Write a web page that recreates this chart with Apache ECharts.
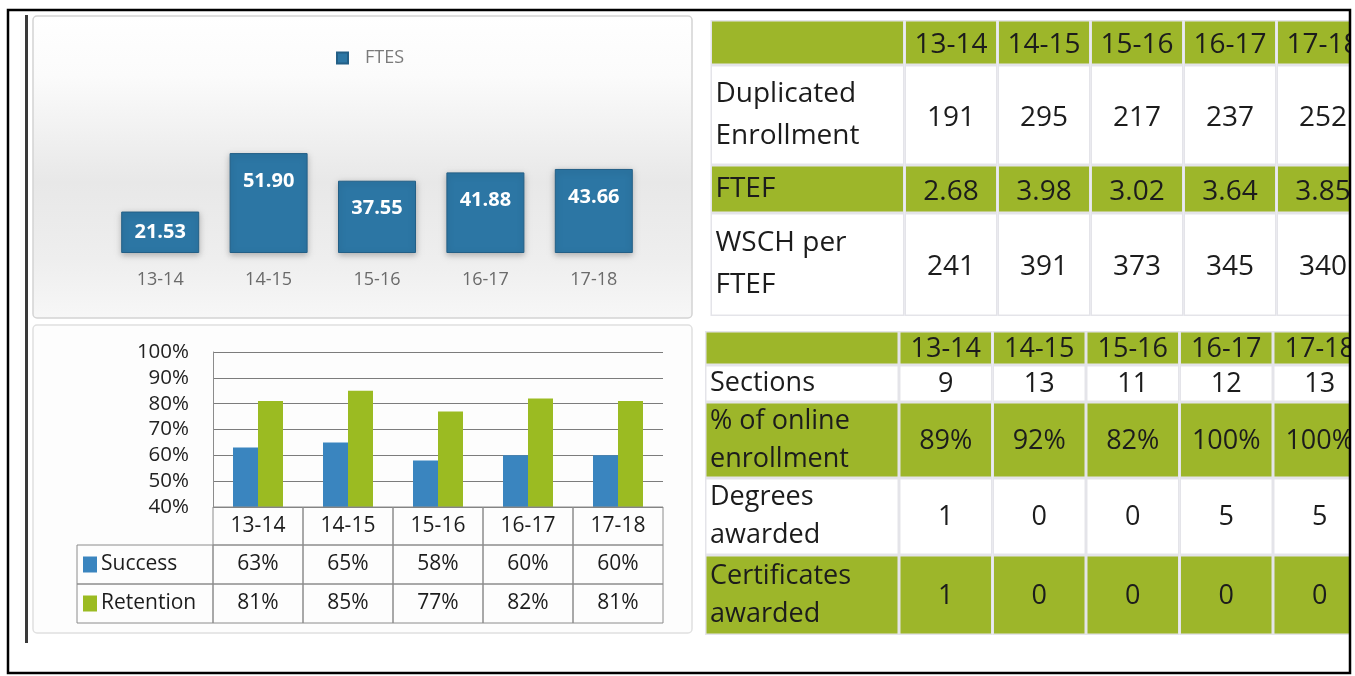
<!DOCTYPE html>
<html>
<head>
<meta charset="utf-8">
<script src="https://cdn.jsdelivr.net/npm/echarts@6/dist/echarts.min.js"></script>
<style>
	html, body { margin: 0; padding: 0; background: #fff; overflow: hidden; }
	#main { width: 1400px; height: 676px; }
</style>
</head>
<body>
<div id="main"></div>
<script>
	/*年度*/
	const years = ['13-14', '14-15', '15-16', '16-17', '17-18'];
	/*FTES*/
	const ftes = [21.53, 51.90, 37.55, 41.88, 43.66];
	/*Success / Retention (%)*/
	const success = [63, 65, 58, 60, 60];
	const retention = [81, 85, 77, 82, 81];
	const pctTicks = [40, 50, 60, 70, 80, 90, 100];
	/*右上表*/
	const dupEnrollment = [191, 295, 217, 237, 252];
	const ftef = [2.68, 3.98, 3.02, 3.64, 3.85];
	const wschPerFtef = [241, 391, 373, 345, 340];
	/*右下表*/
	const sections = [9, 13, 11, 12, 13];
	const onlinePct = [89, 92, 82, 100, 100];
	const degrees = [1, 0, 0, 5, 5];
	const certificates = [1, 0, 0, 0, 0];

	const FONT = '"Open Sans", sans-serif';
	const GREEN = '#9db62a';
	const BLUE = '#3a85bf';
	const LIME = '#9bbb22';

	/*表格行*/
	const topRows = [
		{ label: '', values: years, fill: GREEN },
		{ label: 'Duplicated\nEnrollment', values: dupEnrollment.map(String), fill: '#fff' },
		{ label: 'FTEF', values: ftef.map(v => v.toFixed(2)), fill: GREEN },
		{ label: 'WSCH per\nFTEF', values: wschPerFtef.map(String), fill: '#fff' }
	];
	const bottomRows = [
		{ label: '', values: years, fill: GREEN },
		{ label: 'Sections', values: sections.map(String), fill: '#fff' },
		{ label: '% of online\nenrollment', values: onlinePct.map(v => v + '%'), fill: GREEN },
		{ label: 'Degrees\nawarded', values: degrees.map(String), fill: '#fff' },
		{ label: 'Certificates\nawarded', values: certificates.map(String), fill: GREEN }
	];
	const topLayout = { rowH: [45, 100, 48, 103], labelW: 194, fontSize: 28, lineHeight: 42, textDy: 3 };
	const bottomLayout = { rowH: [34, 37, 76, 77, 80], labelW: 194, fontSize: 27, lineHeight: 38, textDy: 1 };

	function sum(arr) {
		return arr.reduce((a, b) => a + b, 0);
	}

	function buildCells(rows) {
		let cells = [];
		rows.forEach((r, ri) => {
			cells.push({ col: 0, row: ri, text: r.label, isLabel: true, fill: r.fill });
			r.values.forEach((v, ci) => {
				cells.push({ col: ci, row: ri, text: v, isLabel: false, fill: r.fill });
			});
		});
		return cells;
	}

	function tableRenderer(cells, layout) {
		let tops = [0];
		layout.rowH.forEach(h => tops.push(tops[tops.length - 1] + h));
		return function(params, api) {
			const c = cells[params.dataIndex];
			const band = api.size([1, 0])[0];
			let x = api.coord([c.col, 0])[0] - band / 2;
			let w = band;
			if (c.isLabel) {
				x = x - layout.labelW;
				w = layout.labelW;
			}
			const y0 = api.coord([0, tops[c.row]])[1];
			const y1 = api.coord([0, tops[c.row + 1]])[1];
			const h = y1 - y0;
			return {
				type: 'group',
				children: [{
					type: 'rect',
					shape: { x: x, y: y0, width: w, height: h },
					style: { fill: '#e4e4e9' }
				}, {
					type: 'rect',
					shape: { x: x + 1.5, y: y0 + 1.5, width: w - 3, height: h - 3 },
					style: { fill: c.fill }
				}, {
					type: 'text',
					style: {
						text: c.text,
						x: c.isLabel ? x + 5 : x + w / 2,
						y: y0 + h / 2 + (c.isLabel ? 0 : layout.textDy),
						align: c.isLabel ? 'left' : 'center',
						verticalAlign: 'middle',
						fontFamily: FONT,
						fontSize: layout.fontSize,
						lineHeight: layout.lineHeight,
						fill: '#1c1c1c'
					}
				}]
			};
		};
	}

	/*图表下方数据表*/
	const dtRowH = [38, 39, 39];
	const dtLabelW = 136;
	let dtCells = [];
	years.forEach((y, i) => {
		dtCells.push({ col: i, row: 0, text: y });
		dtCells.push({ col: i, row: 1, text: success[i] + '%' });
		dtCells.push({ col: i, row: 2, text: retention[i] + '%' });
	});
	dtCells.push({ col: 0, row: 1, text: 'Success', isLabel: true, swatch: BLUE });
	dtCells.push({ col: 0, row: 2, text: 'Retention', isLabel: true, swatch: LIME });

	function renderDataTable(params, api) {
		const c = dtCells[params.dataIndex];
		const base = api.coord([c.col, pctTicks[0]]);
		const band = api.size([1, 0])[0];
		let x = base[0] - band / 2;
		let w = band;
		if (c.isLabel) {
			x = x - dtLabelW;
			w = dtLabelW;
		}
		let y = base[1];
		for (let r = 0; r < c.row; r++) y += dtRowH[r];
		const h = dtRowH[c.row];
		let children = [{
			type: 'rect',
			shape: { x: x, y: y, width: w, height: h },
			style: { fill: 'rgba(255,255,255,0)', stroke: '#8c8c8c', lineWidth: 1 }
		}];
		if (c.swatch) {
			children.push({
				type: 'rect',
				shape: { x: x + 6, y: y + h / 2 - 8, width: 14, height: 16 },
				style: { fill: c.swatch }
			});
		}
		children.push({
			type: 'text',
			style: {
				text: c.text,
				x: c.isLabel ? x + 24 : x + w / 2,
				y: y + h / 2,
				align: c.isLabel ? 'left' : 'center',
				verticalAlign: 'middle',
				fontFamily: FONT,
				fontSize: 21,
				fill: '#1c1c1c'
			}
		});
		return { type: 'group', children: children };
	}

	const topCells = buildCells(topRows);
	const bottomCells = buildCells(bottomRows);

	let myChart = echarts.init(document.getElementById('main'));
	const option = {
		animation: false,
		backgroundColor: '#fff',
		textStyle: { fontFamily: FONT },
		graphic: {
			elements: [{
				type: 'rect', z: -10,
				shape: { x: 33, y: 16, width: 659, height: 302, r: 4 },
				style: {
					stroke: '#d4d4d4', lineWidth: 1.5,
					fill: new echarts.graphic.LinearGradient(0, 0, 0, 1, [
						{ offset: 0, color: '#ffffff' },
						{ offset: 0.2, color: '#fbfbfb' },
						{ offset: 0.55, color: '#e8e8e8' },
						{ offset: 0.8, color: '#eeeeee' },
						{ offset: 1, color: '#f7f7f7' }
					])
				}
			}, {
				type: 'rect', z: -10,
				shape: { x: 33, y: 325, width: 659, height: 308, r: 4 },
				style: { stroke: '#e0e0e0', lineWidth: 1.5, fill: '#fdfdfd' }
			}, {
				type: 'rect', z: -10,
				shape: { x: 25, y: 15, width: 3, height: 628 },
				style: { fill: '#3a3a3a' }
			}, {
				type: 'rect', z: 100,
				shape: { x: 1350, y: 0, width: 50, height: 676 },
				style: { fill: '#fff' }
			}, {
				type: 'rect', z: 101,
				shape: { x: 8, y: 10, width: 1342, height: 663 },
				style: { fill: 'none', stroke: '#000', lineWidth: 2.5 }
			}]
		},
		legend: {
			data: ['FTES'],
			left: 331,
			top: 44,
			icon: 'rect',
			itemWidth: 11,
			itemHeight: 11,
			textStyle: { color: '#7a7a7a', fontSize: 18, fontFamily: FONT, padding: [0, 0, 0, 12] }
		},
		grid: [
			{ left: 106, top: 99, width: 542, height: 154 },
			{ left: 213, top: 352, width: 450, height: 155 },
			{ left: 904.5, top: 20, width: 465, height: sum(topLayout.rowH) },
			{ left: 899, top: 331, width: 467.5, height: sum(bottomLayout.rowH) }
		],
		xAxis: [{
			gridIndex: 0, type: 'category', data: years,
			axisLine: { show: false }, axisTick: { show: false },
			axisLabel: { color: '#6a6a6a', fontSize: 18, margin: 18, fontFamily: FONT }
		}, {
			gridIndex: 1, type: 'category', data: years,
			axisLine: { show: false }, axisTick: { show: false }, axisLabel: { show: false }
		}, {
			gridIndex: 2, type: 'category', data: years, show: false
		}, {
			gridIndex: 3, type: 'category', data: years, show: false
		}],
		yAxis: [{
			gridIndex: 0, type: 'value', min: 0, max: 80, show: false
		}, {
			gridIndex: 1, type: 'value',
			min: pctTicks[0], max: pctTicks[pctTicks.length - 1], interval: pctTicks[1] - pctTicks[0],
			axisLine: { show: true, lineStyle: { color: '#8c8c8c' } },
			axisTick: { show: false },
			axisLabel: { formatter: '{value}%', color: '#222', fontSize: 20.5, margin: 24, fontFamily: FONT },
			splitLine: { lineStyle: { color: '#7c7c7c', width: 1 } }
		}, {
			gridIndex: 2, type: 'value', min: 0, max: sum(topLayout.rowH), inverse: true, show: false
		}, {
			gridIndex: 3, type: 'value', min: 0, max: sum(bottomLayout.rowH), inverse: true, show: false
		}],
		series: [{
			name: 'FTES',
			type: 'bar',
			xAxisIndex: 0, yAxisIndex: 0,
			barWidth: 78,
			itemStyle: {
				color: '#2c76a4',
				borderColor: '#235f86',
				borderWidth: 1,
				shadowBlur: 6,
				shadowColor: 'rgba(0,0,0,0.25)',
				shadowOffsetY: 2
			},
			label: {
				show: true,
				position: 'insideTop',
				distance: 18,
				color: '#fff',
				fontWeight: 'bold',
				fontSize: 20,
				fontFamily: FONT,
				formatter: p => p.value.toFixed(2)
			},
			data: ftes.map(v => v < 30 ? { value: v, label: { position: 'inside' } } : v)
		}, {
			name: 'Success',
			type: 'bar',
			xAxisIndex: 1, yAxisIndex: 1,
			barWidth: 25,
			barGap: '0%',
			itemStyle: { color: BLUE },
			data: success
		}, {
			name: 'Retention',
			type: 'bar',
			xAxisIndex: 1, yAxisIndex: 1,
			barWidth: 25,
			barGap: '0%',
			itemStyle: { color: LIME },
			data: retention
		}, {
			name: 'dataTable',
			type: 'custom',
			xAxisIndex: 1, yAxisIndex: 1,
			renderItem: renderDataTable,
			data: dtCells.map(c => [c.col, pctTicks[0]]),
			z: 5
		}, {
			name: 'topTable',
			type: 'custom',
			xAxisIndex: 2, yAxisIndex: 2,
			renderItem: tableRenderer(topCells, topLayout),
			data: topCells.map(c => [c.col, c.row])
		}, {
			name: 'bottomTable',
			type: 'custom',
			xAxisIndex: 3, yAxisIndex: 3,
			renderItem: tableRenderer(bottomCells, bottomLayout),
			data: bottomCells.map(c => [c.col, c.row])
		}]
	};
	myChart.setOption(option);
</script>
</body>
</html>
